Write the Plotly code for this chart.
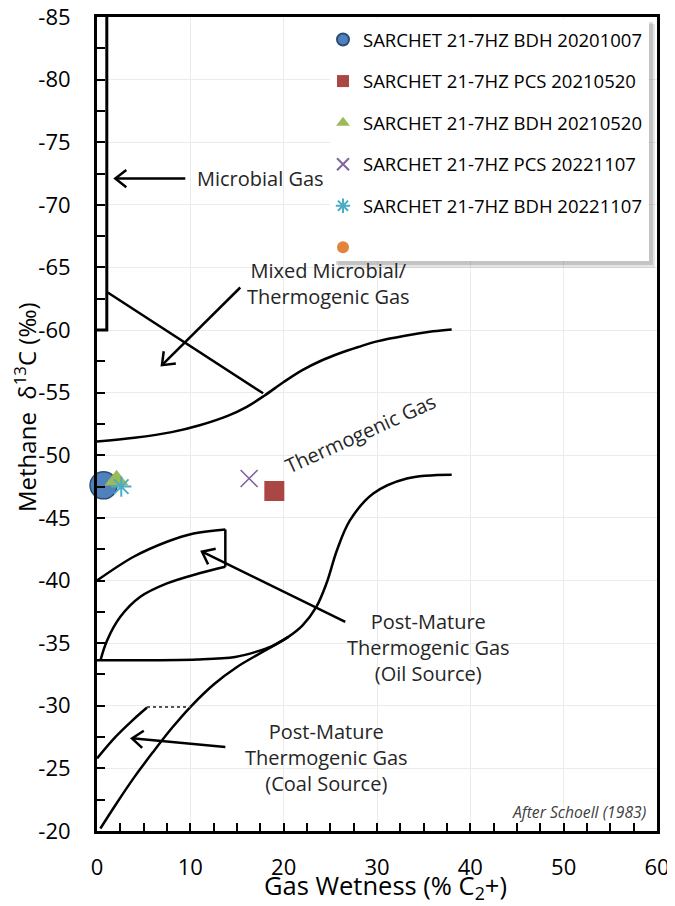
import math
import plotly.graph_objects as go

# ---------------- data ----------------
series_names = [
    "SARCHET 21-7HZ BDH 20201007",
    "SARCHET 21-7HZ PCS 20210520",
    "SARCHET 21-7HZ BDH 20210520",
    "SARCHET 21-7HZ PCS 20221107",
    "SARCHET 21-7HZ BDH 20221107",
    "",
]
series_wetness = [[0.7], [19.0], [2.1], [16.3], [2.6], [None]]
series_d13c = [[-47.6], [-47.15], [-48.0], [-48.15], [-47.5], [None]]

# Schoell (1983) field boundaries
microbial_x = [1.05, 1.05, 0.0]
microbial_y = [-85.0, -60.0, -60.0]

mixed_x = [1.15, 17.8]
mixed_y = [-63.0, -54.95]

thermo_upper_x = [0, 4, 8, 11, 14, 16, 18, 20, 22, 24, 26, 28, 30, 33, 36, 38]
thermo_upper_y = [-51.1, -51.4, -51.85, -52.4, -53.15, -53.85, -54.8, -55.85, -56.8,
                  -57.55, -58.15, -58.65, -59.1, -59.55, -59.9, -60.05]

# coal-source lower boundary continuing into the thermogenic S-curve
coal_main_x = [0.36, 2, 4, 6, 8, 10, 12.5, 15, 17.5, 20.5, 22, 23.5, 24.6, 25.7, 27.1,
               29.6, 33.2, 38]
coal_main_y = [-20.2, -22.1, -24.3, -26.3, -28.2, -29.9, -31.7, -33.1, -34.2, -35.5,
               -36.4, -37.9, -39.8, -42.4, -44.8, -46.95, -48.15, -48.45]

oil_bottom_x = [0, 5, 10.7, 14.8, 17.0, 18.75, 20.5]
oil_bottom_y = [-33.64, -33.64, -33.7, -33.9, -34.3, -34.76, -35.5]

oil_upper_x = [0, 3.93, 7.5, 10.35, 13.75]
oil_upper_y = [-40.0, -41.9, -43.1, -43.76, -44.08]

oil_side_x = [13.75, 13.75]
oil_side_y = [-44.08, -41.1]

oil_lower_x = [13.75, 11.07, 7.5, 4.64, 2.5, 1.07, 0.36]
oil_lower_y = [-41.1, -40.6, -39.77, -38.7, -37.1, -35.2, -33.6]

coal_upper_x = [0.0, 1.96, 3.75, 5.36]
coal_upper_y = [-25.8, -27.5, -28.8, -29.86]

coal_flat_x = [5.36, 10.0]
coal_flat_y = [-29.9, -29.9]

# arrows: (tail_x, tail_y, head_x, head_y)
arrows = [
    (9.46, -72.1, 1.96, -72.1),
    (15.35, -63.4, 6.96, -57.2),
    (26.6, -36.7, 11.25, -42.3),
    (13.75, -26.7, 3.75, -27.4),
]

x_ticks = [0, 10, 20, 30, 40, 50, 60]
y_ticks = [-85, -80, -75, -70, -65, -60, -55, -50, -45, -40, -35, -30, -25, -20]

# ---------------- styling ----------------
# the page body has an 8px margin, so the figure is drawn 8px right/down
BODY = 8
W, H = 675 - BODY, 906 - BODY
PLOT_L, PLOT_T, PW, PH = 97, 17, 560, 814      # plot area in page pixels
ML, MT = PLOT_L - BODY, PLOT_T - BODY
MR, MB = W - ML - PW, H - MT - PH
XR = (0, 60)
YR = (-20, -85)
SX = PW / (XR[1] - XR[0])
SY = PH / (YR[0] - YR[1])  # px per unit; data increase -> screen down

FONT = "Open Sans"
TXT = "#262626"
ANN = 20

fig = go.Figure()

marker_styles = [
    dict(symbol="circle", size=27, color="#4F81BD", line=dict(color="#2C4D75", width=1.5)),
    dict(symbol="square", size=20, color="#AA4643", line=dict(color="#AA4643", width=0)),
    dict(symbol="triangle-up", size=21, color="#9BBB59", line=dict(color="#9BBB59", width=0)),
    dict(symbol="x-thin", size=17, color="#8064A2", line=dict(color="#8064A2", width=1.6)),
    dict(symbol="asterisk", size=17, color="#4BACC6", line=dict(color="#4BACC6", width=2)),
    dict(symbol="circle", size=14, color="#E2843C", line=dict(color="#E2843C", width=0)),
]

line_style = dict(color="black", width=2.5)


def add_curve(xs, ys, shape="spline", style=None):
    fig.add_trace(go.Scatter(
        x=xs, y=ys, mode="lines", line=dict(**(style or line_style), shape=shape),
        showlegend=False, hoverinfo="skip"))


add_curve(microbial_x, microbial_y, "linear", dict(color="black", width=3))
add_curve(mixed_x, mixed_y, "linear")
add_curve(thermo_upper_x, thermo_upper_y)
add_curve(coal_main_x, coal_main_y)
add_curve(oil_bottom_x, oil_bottom_y)
add_curve(oil_upper_x, oil_upper_y)
add_curve(oil_side_x, oil_side_y, "linear")
add_curve(oil_lower_x, oil_lower_y)
add_curve(coal_upper_x, coal_upper_y)
add_curve(coal_flat_x, coal_flat_y, "linear", dict(color="#555555", width=2, dash="dot"))

# arrows with open chevron heads
for tx, ty, hx, hy in arrows:
    vx, vy = (tx - hx) * SX, (ty - hy) * SY
    n = math.hypot(vx, vy)
    ux, uy = vx / n, vy / n
    L, a = 14, math.radians(38)
    arms = []
    for s in (1, -1):
        rx = ux * math.cos(s * a) - uy * math.sin(s * a)
        ry = ux * math.sin(s * a) + uy * math.cos(s * a)
        arms.append((hx + rx * L / SX, hy + ry * L / SY))
    add_curve([tx, hx], [ty, hy], "linear", dict(color="black", width=2.5))
    add_curve([arms[0][0], hx, arms[1][0]], [arms[0][1], hy, arms[1][1]], "linear",
              dict(color="black", width=2.5))

# data series
for i, name in enumerate(series_names):
    fig.add_trace(go.Scatter(
        x=series_wetness[i], y=series_d13c[i], mode="markers", name=name,
        marker=marker_styles[i], legendgroup=f"g{i}", showlegend=True,
        cliponaxis=False))


def px_to_paper(px, py):
    """page pixel -> paper coords"""
    return (px - PLOT_L) / PW, (PLOT_T + PH - py) / PH


# legend box with soft shadow
for (x0, y0, x1, y1, col) in [
    (338, 24, 655, 268, "rgba(0,0,0,0.10)"),
    (336, 22, 653, 265, "rgba(0,0,0,0.14)"),
    (330, 19, 649, 261, "white"),
]:
    a0, b0 = px_to_paper(x0, y1)
    a1, b1 = px_to_paper(x1, y0)
    fig.add_shape(type="rect", xref="paper", yref="paper", x0=a0, y0=b0, x1=a1, y1=b1,
                  fillcolor=col, line=dict(width=0), layer="above")

annotations = [
    dict(text="Microbial Gas", x=10.5, y=-72.1, xanchor="left", angle=0),
    dict(text="Mixed Microbial/<br>Thermogenic Gas", x=24.8, y=-63.7, xanchor="center", angle=0),
    dict(text="Thermogenic Gas", x=28.2, y=-51.75, xanchor="center", angle=-24.4),
    dict(text="Post-Mature<br>Thermogenic Gas<br>(Oil Source)", x=35.5, y=-34.68, xanchor="center", angle=0),
    dict(text="Post-Mature<br>Thermogenic Gas<br>(Coal Source)", x=24.6, y=-25.9, xanchor="center", angle=0),
]
for a in annotations:
    fig.add_annotation(text=a["text"], x=a["x"], y=a["y"], xref="x", yref="y",
                       xanchor=a["xanchor"], yanchor="middle", showarrow=False,
                       textangle=a["angle"],
                       font=dict(family=FONT, size=ANN, color=TXT))

fig.add_annotation(text="<i>After Schoell (1983)</i>", x=59.0, y=-21.5, xref="x", yref="y",
                   xanchor="right", yanchor="middle", showarrow=False,
                   font=dict(family=FONT, size=15.7, color="#404040"))

ytx, yty = px_to_paper(25, 407)
fig.add_annotation(text="Methane  δ<sup>13</sup>C (‰)", x=ytx, y=yty, xref="paper", yref="paper",
                   textangle=-90, showarrow=False, xanchor="center", yanchor="middle",
                   font=dict(family=FONT, size=24, color="black"))
xtx, xty = px_to_paper(385, 887)
fig.add_annotation(text="Gas Wetness (% C<sub>2</sub>+)", x=xtx, y=xty, xref="paper", yref="paper",
                   showarrow=False, xanchor="center", yanchor="middle",
                   font=dict(family=FONT, size=25.5, color="black"))

lx, ly = px_to_paper(323, 21)
fig.update_layout(
    width=W, height=H,
    margin=dict(l=ML, r=MR, t=MT, b=MB, pad=0, autoexpand=False),
    paper_bgcolor="white", plot_bgcolor="white",
    font=dict(family=FONT, color="black"),
    showlegend=True,
    legend=dict(x=lx, y=ly, xanchor="left", yanchor="top", bgcolor="rgba(0,0,0,0)",
                borderwidth=0, itemsizing="constant", tracegroupgap=14.5,
                font=dict(family=FONT, size=18.5, color="black")),
    xaxis=dict(range=list(XR), tickvals=x_ticks, ticktext=[str(v) for v in x_ticks],
               automargin=False, ticklabeloverflow="allow",
               showgrid=True, gridcolor="#ebebeb", gridwidth=1,
               showline=True, linecolor="black", linewidth=3, mirror=True,
               ticks="inside", ticklen=8, tickwidth=2, tickcolor="black",
               minor=dict(dtick=2.5, tick0=0, ticks="inside", ticklen=8, tickwidth=2,
                          tickcolor="black", showgrid=False),
               ticklabelstandoff=15,
               tickfont=dict(family=FONT, size=22, color="black"), zeroline=False),
    yaxis=dict(range=list(YR), tickvals=y_ticks, ticktext=[str(v) for v in y_ticks],
               automargin=False, ticklabeloverflow="allow",
               showgrid=True, gridcolor="#ebebeb", gridwidth=1,
               showline=True, linecolor="black", linewidth=3, mirror=True,
               ticks="inside", ticklen=8, tickwidth=2, tickcolor="black",
               minor=dict(dtick=2.5, tick0=-85, ticks="inside", ticklen=8, tickwidth=2,
                          tickcolor="black", showgrid=False),
               ticklabelstandoff=19,
               tickfont=dict(family=FONT, size=22, color="black"), zeroline=False),
)

fig.write_html("out.html")
